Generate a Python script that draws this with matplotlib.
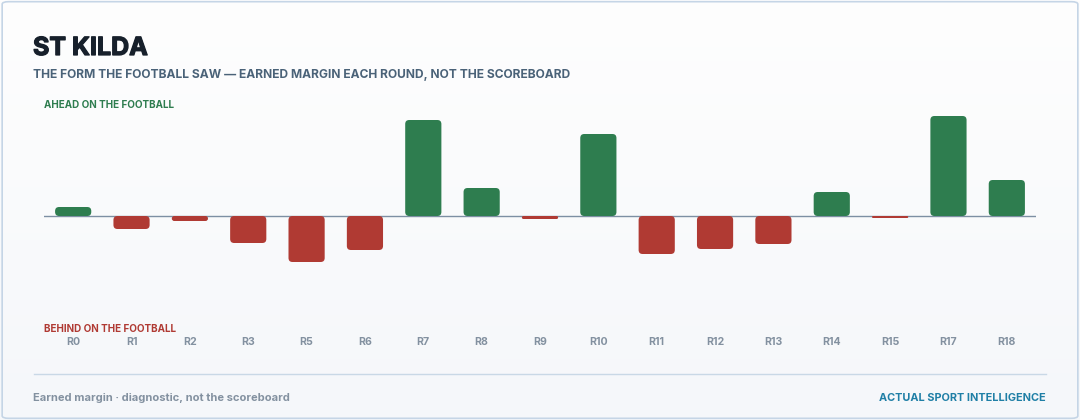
import numpy as np
import matplotlib
matplotlib.use("Agg")
import matplotlib.pyplot as plt
import matplotlib.patheffects as pe
from matplotlib.patches import FancyBboxPatch

# ==================== 数据 ====================
rounds = ["R0", "R1", "R2", "R3", "R5", "R6", "R7", "R8", "R9",
          "R10", "R11", "R12", "R13", "R14", "R15", "R17", "R18"]
margins = [9, -13, -5, -27, -46, -34, 96, 28, -3,
           82, -38, -33, -28, 24, -2, 100, 36]

# ==================== 样式 ====================
GREEN = "#2e7d4f"
RED = "#b03a33"
INK = "#17202b"
SUB = "#4a6278"
MUTED = "#8391a0"
TEAL = "#1f7fa6"
RULE = "#c9d8e6"

plt.rcParams["font.family"] = ["Inter", "DejaVu Sans"]

W, H = 1080, 420
fig = plt.figure(figsize=(W / 100, H / 100), dpi=100)


def fx(px):
    return px / W


def fy(py):
    return 1 - py / H


# 背景渐变 + 边框
bg = fig.add_axes([0, 0, 1, 1], zorder=-10)
grad = np.linspace(0, 1, 256).reshape(-1, 1)
bg.imshow(grad, aspect="auto", extent=[0, 1, 0, 1], origin="upper",
          cmap=matplotlib.colors.LinearSegmentedColormap.from_list(
              "bg", ["#fefefe", "#f5f7fa"]))
bg.add_patch(FancyBboxPatch((0.002, 0.004), 0.996, 0.992,
                            boxstyle="round,pad=0,rounding_size=0.006",
                            transform=bg.transAxes, fill=False,
                            edgecolor="#c5d5e6", linewidth=1.2))
bg.set_xlim(0, 1)
bg.set_ylim(0, 1)
bg.axis("off")

# 主图
ax = fig.add_axes([fx(44), fy(322), fx(992), 212 / H])
ax.patch.set_alpha(0)
n = len(rounds)
x = np.arange(n)
ax.set_xlim(-0.5, n - 0.5)
ax.set_ylim(-106, 106)

bar_w = 0.62
px_per_x = 992 / n
aspect = px_per_x  # y 单位 = 1px
for xi, v in zip(x, margins):
    color = GREEN if v >= 0 else RED
    h = abs(v)
    y0 = 0 if v >= 0 else v
    r = min(4 / px_per_x, (h / aspect) / 2, bar_w / 2)
    ax.add_patch(FancyBboxPatch((xi - bar_w / 2, y0), bar_w, h,
                                boxstyle=f"round,pad=0,rounding_size={r}",
                                mutation_aspect=aspect,
                                facecolor=color, edgecolor="none", zorder=3))

ax.axhline(0, color="#7d8fa3", linewidth=1, zorder=2)

for s in ax.spines.values():
    s.set_visible(False)
ax.set_yticks([])
ax.set_xticks(x)
ax.set_xticklabels(rounds, fontsize=7.6, fontweight="bold", color=MUTED)
ax.tick_params(axis="x", length=0, pad=11)

# 文字
fig.text(fx(33), fy(55), "ST KILDA", fontsize=18, fontweight="bold",
         color=INK, va="baseline",
         path_effects=[pe.withStroke(linewidth=0.9, foreground=INK)])
fig.text(fx(33), fy(78), "THE FORM THE FOOTBALL SAW \u2014 EARNED MARGIN EACH ROUND, NOT THE SCOREBOARD",
         fontsize=8.65, fontweight="bold", color=SUB, va="baseline")
fig.text(fx(44), fy(108), "AHEAD ON THE FOOTBALL", fontsize=7.1,
         fontweight="bold", color=GREEN, va="baseline")
fig.text(fx(44), fy(332), "BEHIND ON THE FOOTBALL", fontsize=7.1,
         fontweight="bold", color=RED, va="baseline")

fig.add_artist(plt.Line2D([fx(34), fx(1046)], [fy(374), fy(374)],
                          color=RULE, linewidth=1))
fig.text(fx(33), fy(401), "Earned margin \u00b7 diagnostic, not the scoreboard",
         fontsize=8.0, fontweight="bold", color=MUTED, va="baseline")
fig.text(fx(1046), fy(401), "ACTUAL SPORT INTELLIGENCE", fontsize=7.85,
         fontweight="bold", color=TEAL, va="baseline", ha="right")

fig.savefig("out.png", dpi=100)
